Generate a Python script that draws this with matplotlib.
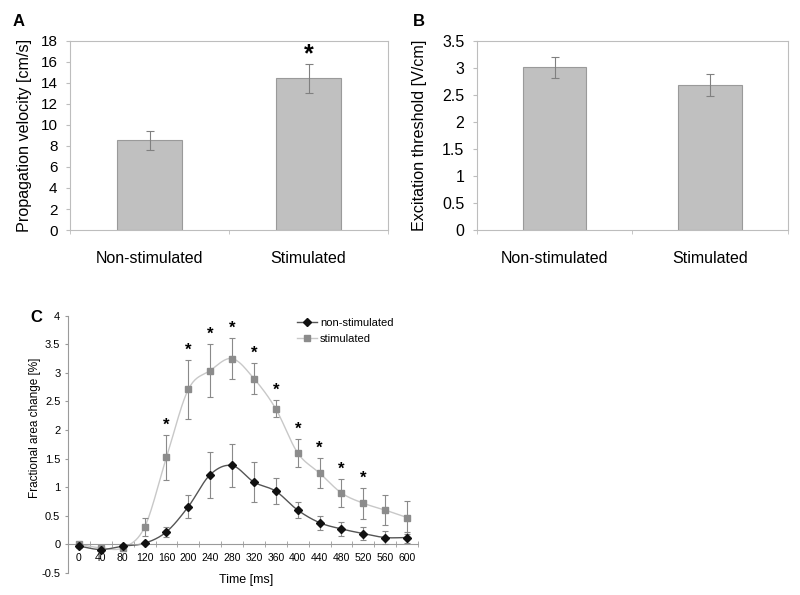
import numpy as np
import matplotlib
matplotlib.use("Agg")
import matplotlib.pyplot as plt

plt.rcParams['font.family'] = ['Liberation Sans', 'DejaVu Sans']

# ---- data ----
bar_categories = ["Non-stimulated", "Stimulated"]
velocity = [8.55, 14.45]
velocity_err = [0.9, 1.38]
threshold = [3.01, 2.68]
threshold_err = [0.19, 0.21]

time_ms = [0, 40, 80, 120, 160, 200, 240, 280, 320, 360, 400, 440, 480, 520, 560, 600]
nonstim = [-0.03, -0.09, -0.03, 0.02, 0.22, 0.66, 1.22, 1.38, 1.09, 0.93, 0.60, 0.38, 0.27, 0.19, 0.12, 0.12]
nonstim_err = [0.03, 0.03, 0.03, 0.02, 0.09, 0.20, 0.40, 0.37, 0.35, 0.23, 0.14, 0.12, 0.12, 0.12, 0.12, 0.10]
stim = [0.0, -0.06, -0.06, 0.30, 1.52, 2.71, 3.04, 3.25, 2.90, 2.37, 1.60, 1.25, 0.90, 0.72, 0.60, 0.47]
stim_err = [0.05, 0.03, 0.05, 0.16, 0.39, 0.52, 0.46, 0.36, 0.27, 0.15, 0.25, 0.26, 0.25, 0.27, 0.26, 0.29]
signif_times = [160, 200, 240, 280, 320, 360, 400, 440, 480, 520]

BAR_FC = "#c0c0c0"
BAR_EC = "#9a9a9a"
FRAME = "#bdbdbd"

fig = plt.figure(figsize=(8, 5.95), dpi=100)


def bar_panel(rect, vals, errs, ylim, yticks, ylabel, letter, letter_x, tick_fs, lpad, star=False):
    ax = fig.add_axes(rect)
    x = np.arange(len(vals))
    ax.bar(x, vals, width=0.41, color=BAR_FC, edgecolor=BAR_EC, linewidth=0.8, zorder=2)
    ax.errorbar(x, vals, yerr=errs, fmt='none', ecolor='#808080', elinewidth=0.8,
                capsize=3, capthick=0.8, zorder=3)
    ax.set_xlim(-0.5, 1.5)
    ax.set_ylim(*ylim)
    ax.set_yticks(yticks)
    ax.set_yticklabels([("%g" % t) for t in yticks], fontsize=tick_fs)
    ax.set_xticks(x)
    ax.set_xticklabels(bar_categories, fontsize=11.5)
    ax.tick_params(axis='x', length=0, pad=15)
    ax.set_xticks([-0.5, 0.5, 1.5], minor=True)
    ax.tick_params(axis='x', which='minor', length=3, color=FRAME, direction='out')
    ax.tick_params(axis='y', length=3, color=FRAME, direction='out', pad=6)
    for s in ax.spines.values():
        s.set_color(FRAME)
        s.set_linewidth(0.8)
    ax.set_ylabel(ylabel, fontsize=11.6, labelpad=lpad)
    fig.text(letter_x, 1 - 21 / 595, letter, fontsize=12, fontweight='bold', va='center')
    if star:
        ax.text(1, vals[1] + errs[1] + 0.05 * (ylim[1] - ylim[0]), "*", ha='center',
                va='center', fontsize=18, fontweight='bold')
    return ax


bar_panel([0.0875, 0.6134, 0.3975, 0.318], velocity, velocity_err, (0, 18),
          list(range(0, 19, 2)), "Propagation velocity [cm/s]", "A", 13 / 800, 11, 6, star=True)
bar_panel([0.596, 0.6134, 0.389, 0.318], threshold, threshold_err, (0, 3.5),
          [0, 0.5, 1, 1.5, 2, 2.5, 3, 3.5], "Excitation threshold [V/cm]", "B", 413 / 800, 11.5, 11)


def catmull_rom(xs, ys, n=20):
    xs = np.asarray(xs, float)
    ys = np.asarray(ys, float)
    P = np.column_stack([xs, ys])
    P = np.vstack([P[0] - (P[1] - P[0]), P, P[-1] + (P[-1] - P[-2])])
    out = []
    t = np.linspace(0, 1, n, endpoint=False)[:, None]
    for i in range(1, len(P) - 2):
        p0, p1, p2, p3 = P[i - 1], P[i], P[i + 1], P[i + 2]
        seg = 0.5 * ((2 * p1) + (-p0 + p2) * t + (2 * p0 - 5 * p1 + 4 * p2 - p3) * t ** 2
                     + (-p0 + 3 * p1 - 3 * p2 + p3) * t ** 3)
        out.append(seg)
    out.append(P[-2][None, :])
    out = np.vstack(out)
    return out[:, 0], out[:, 1]


axc = fig.add_axes([0.085, 0.037, 0.4375, 0.4324])
axc.set_xlim(-20, 620)
axc.set_ylim(-0.5, 4)

sx, sy = catmull_rom(time_ms, stim)
axc.plot(sx, sy, color='#c8c8c8', lw=1.0, zorder=2)
axc.errorbar(time_ms, stim, yerr=stim_err, fmt='none', ecolor='#8a8a8a', elinewidth=0.8,
             capsize=2.5, capthick=0.8, zorder=3)
axc.plot(time_ms, stim, ls='none', marker='s', ms=4, color='#8c8c8c', zorder=4)

nx, ny = catmull_rom(time_ms, nonstim)
axc.plot(nx, ny, color='#555555', lw=1.0, zorder=2)
axc.errorbar(time_ms, nonstim, yerr=nonstim_err, fmt='none', ecolor='#8a8a8a', elinewidth=0.8,
             capsize=2.5, capthick=0.8, zorder=3)
axc.plot(time_ms, nonstim, ls='none', marker='D', ms=4, color='#111111', zorder=5)

for t in signif_times:
    i = time_ms.index(t)
    axc.text(t, stim[i] + stim_err[i] + 0.17, "*", ha='center', va='center',
             fontsize=12, fontweight='bold')

# legend
lh1, = axc.plot([], [], color='#555555', lw=1.0, marker='D', ms=4, mfc='#111111', mec='#111111')
lh2, = axc.plot([], [], color='#c8c8c8', lw=1.0, marker='s', ms=4, mfc='#8c8c8c', mec='#8c8c8c')
axc.legend([lh1, lh2], ["non-stimulated", "stimulated"], loc='upper left',
           bbox_to_anchor=(0.625, 1.03), frameon=False, fontsize=8,
           handlelength=1.8, handletextpad=0.3, labelspacing=0.5)

axc.spines['top'].set_visible(False)
axc.spines['right'].set_visible(False)
axc.spines['bottom'].set_position(('data', 0))
axc.spines['bottom'].set_color('#9a9a9a')
axc.spines['left'].set_color('#9a9a9a')
axc.spines['bottom'].set_linewidth(0.8)
axc.spines['left'].set_linewidth(0.8)

yt = [-0.5, 0, 0.5, 1, 1.5, 2, 2.5, 3, 3.5, 4]
axc.set_yticks(yt)
axc.set_yticklabels(["%g" % v for v in yt], fontsize=8)
axc.tick_params(axis='y', length=2.5, color='#9a9a9a', direction='out', pad=3)

axc.set_xticks(time_ms)
axc.set_xticklabels([str(t) for t in time_ms], fontsize=7.5)
axc.tick_params(axis='x', length=0, pad=6)
axc.set_xticks(np.arange(-20, 621, 40), minor=True)
axc.tick_params(axis='x', which='minor', length=4, color='#9a9a9a', direction='inout')

axc.set_ylabel("Fractional area change [%]", fontsize=8.5, labelpad=1)
axc.yaxis.set_label_coords(-0.077, 0.564)
axc.set_xlabel("Time [ms]", fontsize=9)
axc.xaxis.set_label_coords(0.51, -0.027)
axc.xaxis.label.set_va('center')
fig.text(30 / 800, 1 - 318 / 595, "C", fontsize=12, fontweight='bold', va='center')

fig.savefig("out.png", dpi=100)
